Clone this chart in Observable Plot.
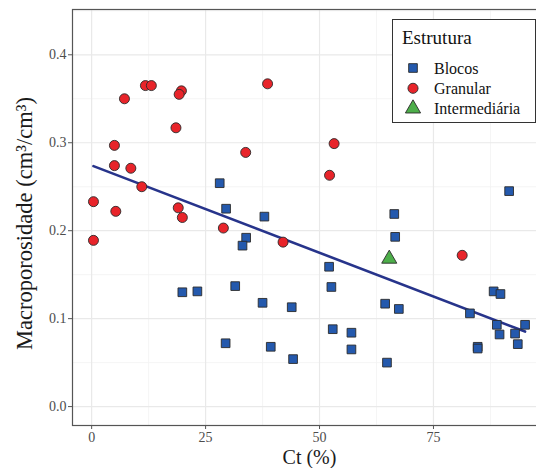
<!DOCTYPE html>
<html>
<head>
<meta charset="utf-8">
<script src="https://cdn.jsdelivr.net/npm/d3@7"></script>
<script src="https://cdn.jsdelivr.net/npm/@observablehq/plot@0.6"></script>
<style>
  html, body { margin: 0; padding: 0; background: #fff; }
  #wrap { position: relative; width: 536px; height: 468px; overflow: hidden; }
  #legend { position: absolute; left: 392px; top: 19px; }
</style>
</head>
<body>
<div id="wrap"></div>
<script>
// Categories
const groups = ["Blocos", "Granular", "Intermediária"];
const groupColors = ["#2459ad", "#e8242a", "#4dae4a"];

// Blocos
const blocosCt = [28.1, 29.5, 19.9, 23.2, 37.9, 33.9, 33.1, 52.1, 52.6, 31.5, 37.5, 43.9, 64.4, 91.6, 66.4, 66.6, 88.2, 89.7, 67.4, 52.9, 57.0, 57.0, 29.4, 39.3, 44.2, 64.8, 83.0, 88.9, 89.5, 84.7, 84.7, 92.9, 95.1, 93.5];
const blocosMp = [0.254, 0.225, 0.130, 0.131, 0.216, 0.192, 0.183, 0.159, 0.136, 0.137, 0.118, 0.113, 0.117, 0.245, 0.219, 0.193, 0.131, 0.128, 0.111, 0.088, 0.084, 0.065, 0.072, 0.068, 0.054, 0.050, 0.106, 0.093, 0.082, 0.068, 0.066, 0.083, 0.093, 0.071];

// Granular
const granularCt = [0.4, 0.4, 5.0, 8.6, 11.0, 5.3, 19.0, 19.9, 28.9, 11.8, 13.1, 19.7, 19.2, 7.2, 18.5, 5.0, 38.6, 33.8, 53.2, 52.2, 42.0, 81.3];
const granularMp = [0.233, 0.189, 0.274, 0.271, 0.250, 0.222, 0.226, 0.215, 0.203, 0.365, 0.365, 0.359, 0.355, 0.350, 0.317, 0.297, 0.367, 0.289, 0.299, 0.263, 0.187, 0.172];

// Intermediária
const interCt = [65.3];
const interMp = [0.168];

// Tick values
const xTicks = [0, 25, 50, 75];
const xMinor = [12.5, 37.5, 62.5, 87.5];
const yTicks = [0, 0.1, 0.2, 0.3, 0.4];
const yMinor = [0.05, 0.15, 0.25, 0.35, 0.45];

const toRows = (cts, mps, g) => cts.map((c, i) => ({ct: c, mp: mps[i], group: g}));
const blocos = toRows(blocosCt, blocosMp, groups[0]);
const granular = toRows(granularCt, granularMp, groups[1]);
const inter = toRows(interCt, interMp, groups[2]);
const all = [...blocos, ...granular, ...inter];

const tickColor = "#4d4d4d";
const serif = "'Liberation Serif', 'Times New Roman', Tinos, 'DejaVu Serif', serif";

const chart = Plot.plot({
  width: 536,
  height: 468,
  marginLeft: 72,
  marginRight: -10,
  marginTop: 9,
  marginBottom: 43,
  style: {fontFamily: serif, background: "#fff"},
  x: {domain: [-4.2, 99.8]},
  y: {domain: [-0.0215, 0.4515]},
  marks: [
    Plot.gridX(xMinor, {stroke: "#f2f2f2", strokeOpacity: 1, strokeWidth: 0.8}),
    Plot.gridY(yMinor, {stroke: "#f2f2f2", strokeOpacity: 1, strokeWidth: 0.8}),
    Plot.gridX(xTicks, {stroke: "#e9e9e9", strokeOpacity: 1, strokeWidth: 1.2}),
    Plot.gridY(yTicks, {stroke: "#e9e9e9", strokeOpacity: 1, strokeWidth: 1.2}),
    Plot.axisX(xTicks, {tickSize: 4, tickPadding: 3, fontSize: 14, fontFamily: serif, color: tickColor, stroke: "#555",
      label: "Ct (%)", labelAnchor: "center", labelArrow: "none", labelOffset: 38}),
    Plot.axisY(yTicks, {tickSize: 4, tickPadding: 2, fontSize: 14, fontFamily: serif, color: tickColor, stroke: "#555",
      tickFormat: d3.format(".1f"),
      label: "Macroporosidade (cm³/cm³)", labelAnchor: "center", labelArrow: "none", labelOffset: 56}),
    Plot.frame({stroke: "#555", strokeWidth: 1.2}),
    Plot.linearRegressionY(all, {x: "ct", y: "mp", stroke: "#27348b", strokeWidth: 2.6, ci: 0}),
    Plot.dot(granular, {x: "ct", y: "mp", symbol: "circle", r: 5, fill: groupColors[1], stroke: "#2a2a2a", strokeWidth: 0.9}),
    Plot.dot(blocos, {x: "ct", y: "mp", symbol: "square", r: 4.9, fill: groupColors[0], stroke: "#2a2a2a", strokeWidth: 0.9}),
    Plot.dot(inter, {x: "ct", y: "mp", symbol: "triangle", r: 5.6, fill: groupColors[2], stroke: "#2a2a2a", strokeWidth: 0.9})
  ]
});

chart.querySelectorAll("text").forEach(t => t.style.fontFamily = serif);
chart.querySelectorAll("g[aria-label='y-axis label']").forEach(g => {
  const prev = g.getAttribute("transform") || "";
  g.setAttribute("transform", "translate(0,6) " + prev);
  g.querySelectorAll("text").forEach(t => {
    t.setAttribute("font-size", "22.5");
    t.setAttribute("fill", "#1a1a1a");
  });
});
chart.querySelectorAll("g[aria-label='x-axis label'] text").forEach(t => {
  t.setAttribute("font-size", "20");
  t.setAttribute("fill", "#1a1a1a");
});

const wrap = document.getElementById("wrap");
wrap.appendChild(chart);

// Legend (overlay)
const NS = "http://www.w3.org/2000/svg";
const leg = document.createElementNS(NS, "svg");
leg.setAttribute("id", "legend");
leg.setAttribute("width", "150");
leg.setAttribute("height", "106");
const box = document.createElementNS(NS, "rect");
box.setAttribute("x", "0.5"); box.setAttribute("y", "0.5");
box.setAttribute("width", "143"); box.setAttribute("height", "103");
box.setAttribute("fill", "#fff"); box.setAttribute("stroke", "#333"); box.setAttribute("stroke-width", "1");
leg.appendChild(box);
const title = document.createElementNS(NS, "text");
title.setAttribute("x", "10"); title.setAttribute("y", "25");
title.style.fontFamily = serif; title.setAttribute("font-size", "19");
title.setAttribute("fill", "#111");
title.textContent = "Estrutura";
leg.appendChild(title);
const symTypes = [d3.symbolSquare, d3.symbolCircle, d3.symbolTriangle];
const symSizes = [75, 80, 100];
groups.forEach((g, i) => {
  const cy = 49 + i * 20.3;
  const p = document.createElementNS(NS, "path");
  p.setAttribute("d", d3.symbol(symTypes[i], symSizes[i])());
  p.setAttribute("transform", `translate(21,${cy})`);
  p.setAttribute("fill", groupColors[i]);
  p.setAttribute("stroke", "#2a2a2a");
  p.setAttribute("stroke-width", "0.9");
  leg.appendChild(p);
  const t = document.createElementNS(NS, "text");
  t.setAttribute("x", "42"); t.setAttribute("y", cy + 5.5);
  t.style.fontFamily = serif; t.setAttribute("font-size", "16");
  t.setAttribute("fill", "#111");
  t.textContent = g;
  leg.appendChild(t);
});
wrap.appendChild(leg);
</script>
</body>
</html>
